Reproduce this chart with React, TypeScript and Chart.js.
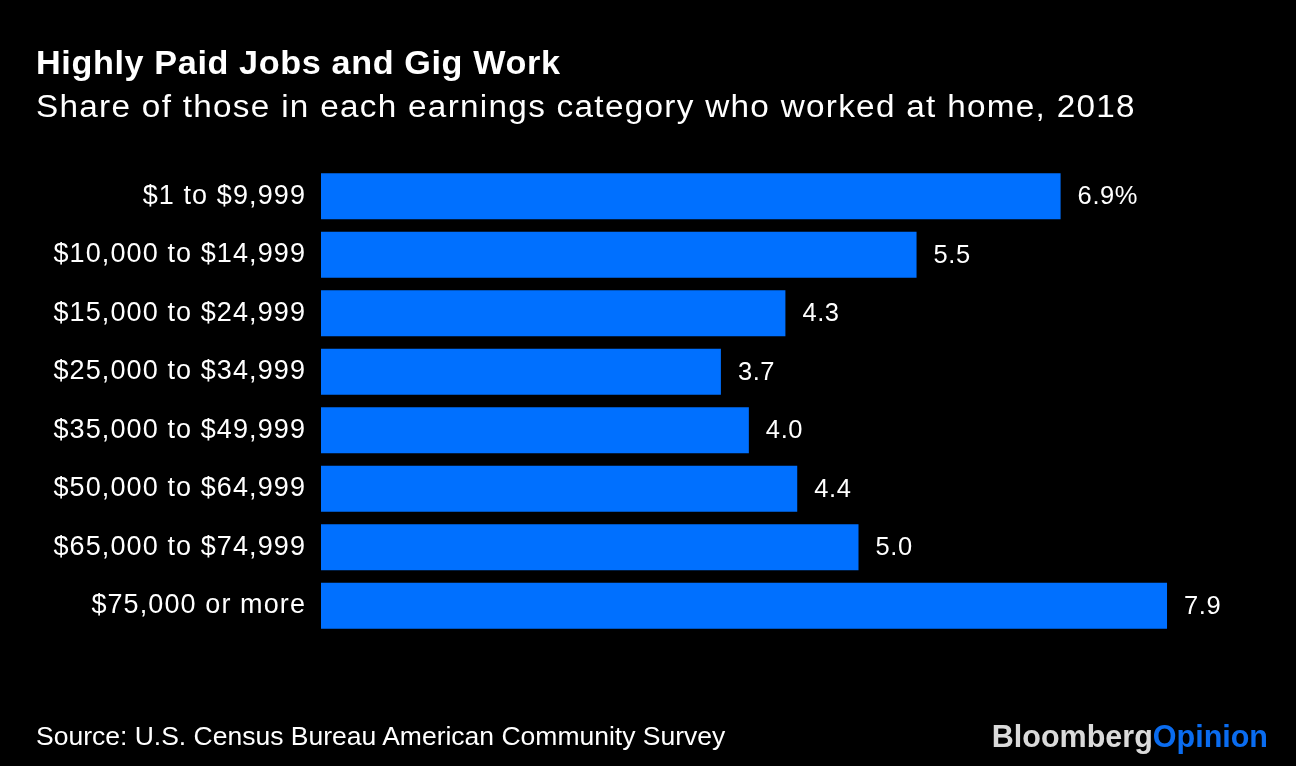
import React, { useEffect, useRef } from "react";
import { Chart, registerables } from "chart.js";

Chart.register(...registerables);

const categories = [
  "$1 to $9,999",
  "$10,000 to $14,999",
  "$15,000 to $24,999",
  "$25,000 to $34,999",
  "$35,000 to $49,999",
  "$50,000 to $64,999",
  "$65,000 to $74,999",
  "$75,000 or more",
];
const shares = [6.88, 5.54, 4.32, 3.72, 3.98, 4.43, 5.0, 7.87];

const TITLE = "Highly Paid Jobs and Gig Work";
const SUBTITLE = "Share of those in each earnings category who worked at home, 2018";
const SOURCE = "Source: U.S. Census Bureau American Community Survey";

const BAR_COLOR = "#0070ff";
const FONT = "'Liberation Sans', Arial, Helvetica, sans-serif";

const labelSpacing = {
  id: "labelSpacing",
  beforeDraw(chart: any) {
    (chart.ctx as any).letterSpacing = "1.1px";
  },
  afterDraw(chart: any) {
    (chart.ctx as any).letterSpacing = "0px";
  },
};

const valueLabels = {
  id: "valueLabels",
  afterDatasetsDraw(chart: any) {
    const ctx = chart.ctx;
    const meta = chart.getDatasetMeta(0);
    ctx.save();
    (ctx as any).letterSpacing = "0.6px";
    ctx.fillStyle = "#ffffff";
    ctx.font = `25.5px ${FONT}`;
    ctx.textBaseline = "middle";
    ctx.textAlign = "left";
    meta.data.forEach((bar: any, i: number) => {
      const v = shares[i];
      const txt = i === 0 ? `${v.toFixed(1)}%` : v.toFixed(1);
      ctx.fillText(txt, bar.x + 17, bar.y + 1);
    });
    ctx.restore();
  },
};

export default function App() {
  const ref = useRef<HTMLCanvasElement | null>(null);
  useEffect(() => {
    const prevMargin = document.body.style.margin;
    document.body.style.margin = "0";
    document.body.style.background = "#000";
    const chart = new Chart(ref.current as HTMLCanvasElement, {
      type: "bar",
      data: {
        labels: categories,
        datasets: [
          {
            data: shares,
            backgroundColor: BAR_COLOR,
            borderWidth: 0,
            categoryPercentage: 1,
            barPercentage: 0.786,
          },
        ],
      },
      options: {
        indexAxis: "y",
        animation: false,
        responsive: false,
        maintainAspectRatio: false,
        layout: { padding: { top: 167, bottom: 131, left: 0, right: 61.25 } },
        plugins: {
          legend: { display: false },
          tooltip: { enabled: false },
          title: { display: false },
        },
        scales: {
          x: {
            display: false,
            min: 0,
            max: 8.5,
          },
          y: {
            grid: { display: false, drawTicks: false },
            border: { display: false },
            ticks: {
              color: "#ffffff",
              padding: 15,
              font: { family: FONT, size: 27 },
            },
            afterFit(scale: any) {
              scale.width = 321;
            },
          },
        },
      },
      plugins: [labelSpacing, valueLabels],
    });
    return () => {
      chart.destroy();
      document.body.style.margin = prevMargin;
    };
  }, []);

  return (
    <div
      style={{
        position: "fixed",
        left: 0,
        top: 0,
        width: 1296,
        height: 766,
        background: "#000",
        overflow: "hidden",
        fontFamily: FONT,
        color: "#fff",
      }}
    >
      <canvas ref={ref} width={1296} height={766} style={{ position: "absolute", left: 0, top: 0 }} />
      <div
        style={{
          position: "absolute",
          left: 36,
          top: 45.4,
          fontSize: 33,
          fontWeight: 700,
          lineHeight: "36px",
          letterSpacing: "0.6px",
          whiteSpace: "nowrap",
          transform: "scaleX(1.036)",
          transformOrigin: "left center",
        }}
      >
        {TITLE}
      </div>
      <div
        style={{
          position: "absolute",
          left: 36,
          top: 89,
          fontSize: 31,
          lineHeight: "36px",
          letterSpacing: "1.2px",
          whiteSpace: "nowrap",
          transform: "scaleX(1.074)",
          transformOrigin: "left center",
        }}
      >
        {SUBTITLE}
      </div>
      <div
        style={{
          position: "absolute",
          left: 36,
          top: 720.5,
          fontSize: 26.5,
          lineHeight: "30px",
          whiteSpace: "nowrap",
        }}
      >
        {SOURCE}
      </div>
      <div
        style={{
          position: "absolute",
          right: 28,
          top: 719,
          fontSize: 30.5,
          fontWeight: 700,
          lineHeight: "34px",
          whiteSpace: "nowrap",
        }}
      >
        <span style={{ color: "#dadada" }}>Bloomberg</span>
        <span style={{ color: "#0a6cf0" }}>Opinion</span>
      </div>
    </div>
  );
}
